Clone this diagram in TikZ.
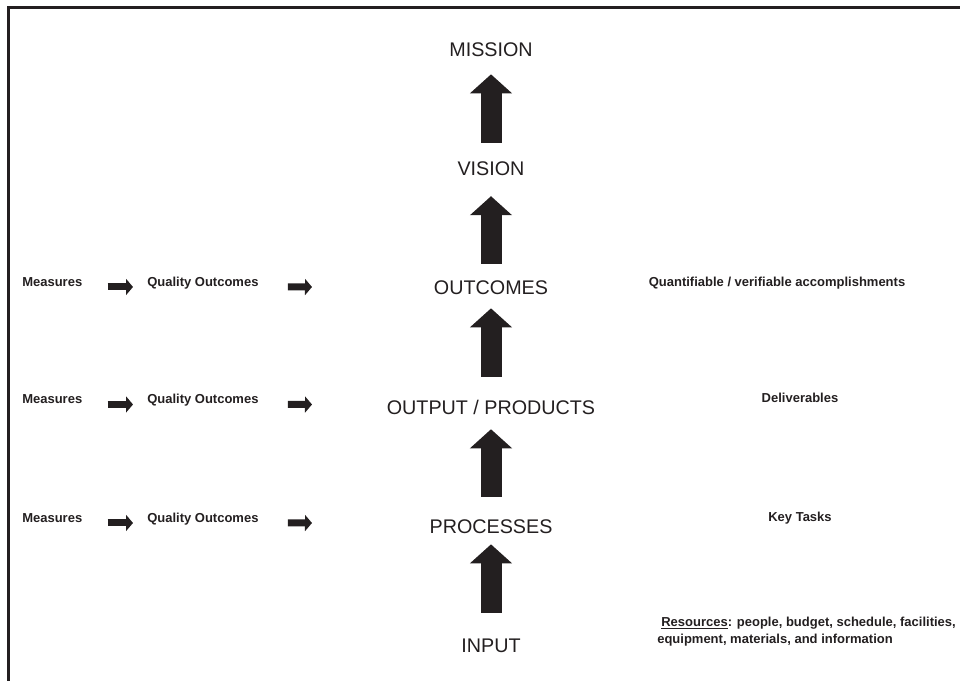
\documentclass[tikz,border=0pt]{standalone}
\usepackage{fontspec}
\setmainfont{Liberation Sans}
\usetikzlibrary{arrows.meta,positioning}
\definecolor{ink}{RGB}{35,31,32}

\begin{document}
\begin{tikzpicture}[
            x=0.75pt,y=-0.75pt,
            every node/.style={on grid},
            level/.style={font=\fontsize{14.8}{16}\selectfont,text=ink,inner sep=0pt,text height=10.6pt,text depth=0pt},
            note/.style={font=\fontsize{9.75}{12.75}\selectfont\bfseries,text=ink,inner sep=0pt,text height=7pt,text depth=0pt},
            bigarrow/.style={ink,line width=15.75pt,-{Triangle[width=30.75pt,length=14.25pt]}},
            smallarrow/.style={ink,line width=5.25pt,-{Triangle[width=12pt,length=5.25pt]}},
            node distance=89.5pt
        ]
        \useasboundingbox (0,0) rectangle (960,681);

        % Draw frame %
        \draw[ink,line width=2.25pt] (8,681) -- (8,7.5) -- (960,7.5);

        % Draw levels %
        \node[level] (mission) at (491,49) {MISSION};
        \node[level,below = of mission] (vision) {VISION};
        \node[level,below = of vision] (outcomes) {OUTCOMES};
        \node[level,below = of outcomes] (output) {OUTPUT / PRODUCTS};
        \node[level,below = of output] (processes) {PROCESSES};
        \node[level,below = of processes] (input) {INPUT};

        % Draw big arrows %
        \foreach \from/\to/\s/\e in {vision/mission/13.7/13.5,outcomes/vision/12.5/15.4,
                output/outcomes/17.2/10,processes/output/16.7/11.2,input/processes/19.2/8}
            \draw[bigarrow,shorten <=\s pt,shorten >=\e pt] (\from) -- (\to);

        % Draw measures %
        \foreach \r/\y in {1/281.5,2/399,3/517.5} {
            \node[note,anchor=west] (meas\r) at (22,\y) {Measures};
            \node[note,anchor=west] (qual\r) at (147,\y) {Quality Outcomes};
            \coordinate (tip\r) at (312,\y+5.5);
            \draw[smallarrow] ([xshift=18.75pt,yshift=-4.1pt]meas\r.east) -- ([xshift=-10.5pt,yshift=-4.1pt]qual\r.west);
            \draw[smallarrow] ([xshift=21.75pt,yshift=-4.1pt]qual\r.east) -- (tip\r);
        }

        % Descriptions %
        \node[note] (accomp) at (777,282) {Quantifiable / verifiable accomplishments};
        \node[note] (deliv) at (800,398) {Deliverables};
        \node[note] (tasks) at (800,517) {Key Tasks};
        \node[note,text height=,align=left,anchor=north west] (res) at (657,617)
            {\hspace*{3pt}\underline{Resources}: people, budget, schedule, facilities,\\equipment, materials, and information};
\end{tikzpicture}
\end{document}
